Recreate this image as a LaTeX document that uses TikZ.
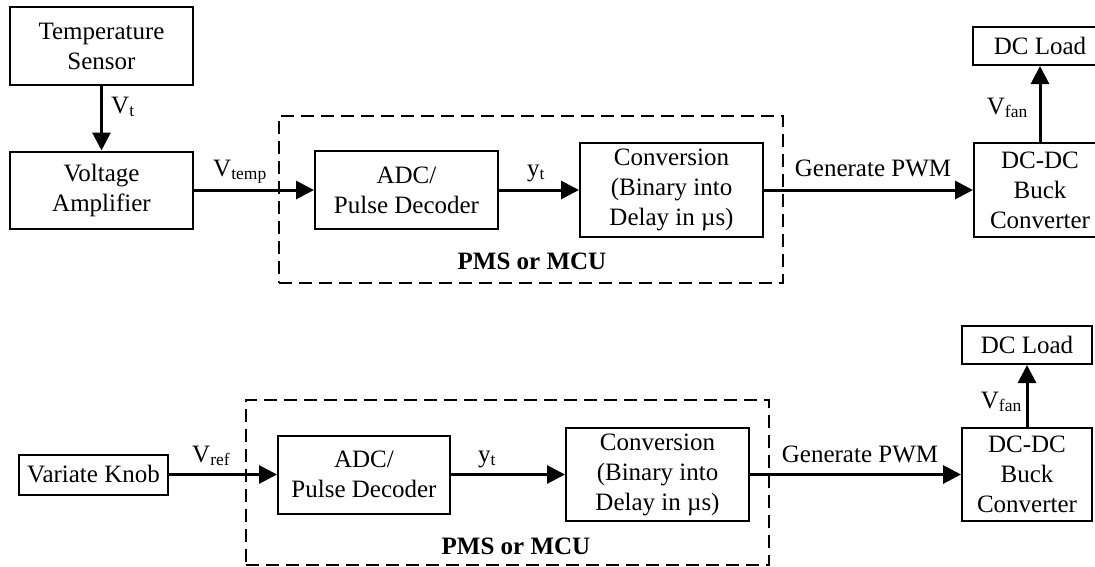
\documentclass[tikz,border=0pt]{standalone}
\usepackage{fontspec}
\setmainfont{Liberation Serif}
\usetikzlibrary{arrows.meta}

\begin{document}
\begin{tikzpicture}[x=1pt,y=-1pt,
        block/.style={draw,line width=2pt,inner sep=0pt,align=center,font=\fontsize{25}{30}\selectfont},
        group/.style={draw,line width=2pt,dash pattern=on 13pt off 7pt,inner sep=0pt},
        signal/.style={line width=3pt,-{Triangle[length=18pt,width=18pt]}},
        lbl/.style={inner sep=0pt,font=\fontsize{25}{30}\selectfont},
        grouplbl/.style={inner sep=0pt,font=\fontsize{25}{30}\selectfont\bfseries}]

    \useasboundingbox (0,0) rectangle (1095,566);
    \clip (0,0) rectangle (1095,566);

    % sensor driven chain
    \node[group,minimum width=504pt,minimum height=167pt] (pms1) at (531,199.5) {};
    \node[block,minimum width=183pt,minimum height=78pt] (sensor) at (101.5,46) {Temperature\\Sensor};
    \node[block,minimum width=183pt,minimum height=77pt] (amp) at (101.5,190) {Voltage\\Amplifier};
    \node[block,minimum width=183pt,minimum height=78pt] (adc1) at (406.5,190) {ADC/\\Pulse Decoder};
    \node[block,minimum width=183pt,minimum height=94pt] (conv1) at (671.5,190) {Conversion\\(Binary into\\Delay in µs)};
    \node[block,minimum width=132pt,minimum height=94pt] (buck1) at (1040,190) {DC-DC\\Buck\\Converter};
    \node[block,minimum width=134pt,minimum height=38pt] (load1) at (1040,46) {DC Load};

    \node[lbl,anchor=base west] (vt) at (111,113) {V\textsubscript{t}};
    \node[lbl,anchor=base west] (vtemp) at (213,176) {V\textsubscript{temp}};
    \node[lbl,anchor=base] (yt1) at (536,176) {y\textsubscript{t}};
    \node[lbl,anchor=base] (pwm1) at (873,176) {Generate PWM};
    \node[lbl,anchor=base east] (vfan1) at (1028,114) {V\textsubscript{fan}};
    \node[grouplbl,anchor=base] (pmslbl1) at (532,269) {PMS or MCU};

    \draw[signal] (sensor) -- (amp);
    \draw[signal] (amp) -- (adc1);
    \draw[signal] (adc1) -- (conv1);
    \draw[signal] (conv1) -- (buck1);
    \draw[signal] (buck1) -- (load1);

    % knob driven chain
    \node[group,minimum width=523pt,minimum height=165pt] (pms2) at (507.5,482.5) {};
    \node[block,minimum width=149pt,minimum height=40pt] (knob) at (93.5,474.5) {Variate Knob};
    \node[block,minimum width=172pt,minimum height=78pt] (adc2) at (364,474.5) {ADC/\\Pulse Decoder};
    \node[block,minimum width=183pt,minimum height=93pt] (conv2) at (657.5,474.5) {Conversion\\(Binary into\\Delay in µs)};
    \node[block,minimum width=130pt,minimum height=93pt] (buck2) at (1027,474.5) {DC-DC\\Buck\\Converter};
    \node[block,minimum width=130pt,minimum height=38pt] (load2) at (1027,345) {DC Load};

    \node[lbl,anchor=base west] (vref) at (192,462) {V\textsubscript{ref}};
    \node[lbl,anchor=base] (yt2) at (487,462) {y\textsubscript{t}};
    \node[lbl,anchor=base] (pwm2) at (860,462) {Generate PWM};
    \node[lbl,anchor=base east] (vfan2) at (1022,408) {V\textsubscript{fan}};
    \node[grouplbl,anchor=base] (pmslbl2) at (516,554) {PMS or MCU};

    \draw[signal] (knob) -- (adc2);
    \draw[signal] (adc2) -- (conv2);
    \draw[signal] (conv2) -- (buck2);
    \draw[signal] (buck2) -- (load2);
\end{tikzpicture}
\end{document}
